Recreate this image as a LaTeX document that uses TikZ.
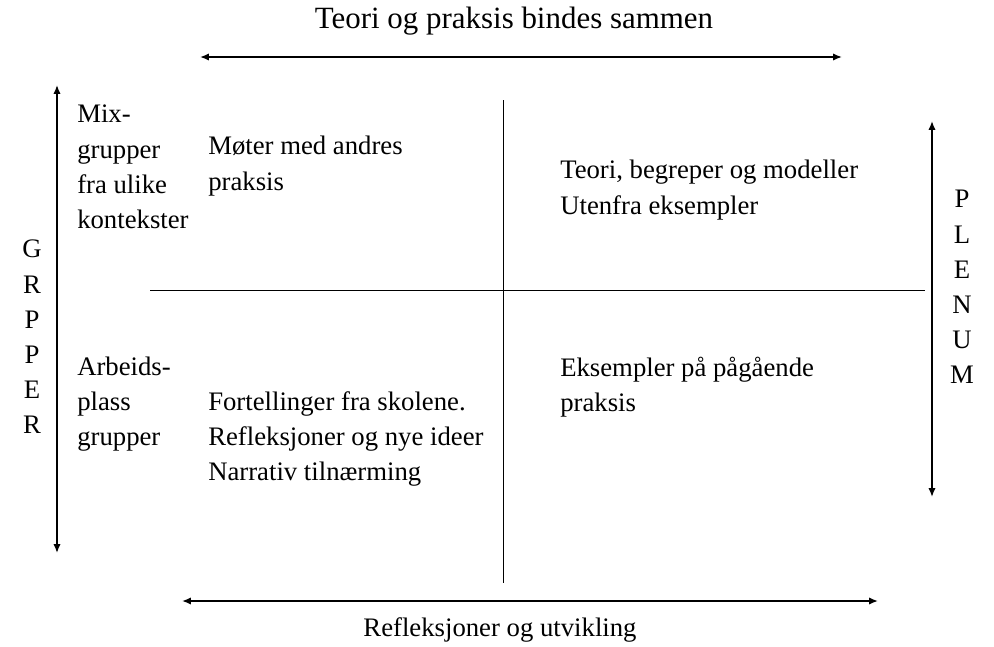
\documentclass[tikz,border=0pt]{standalone}
\usepackage{fontspec}
\setmainfont{Liberation Serif}
\usetikzlibrary{arrows.meta, positioning}

\begin{document}
\begin{tikzpicture}[
        x = 0.025cm, y = -0.025cm,
        every node/.style = {inner sep=0pt, align=left, font=\fontsize{19}{25}\selectfont},
        line/.style = {draw, line width=0.7pt},
        axis/.style = {draw, line width=1.1pt, {Latex[length=2.2mm,width=1.8mm]}-{Latex[length=2.2mm,width=1.8mm]}}
    ]
    \useasboundingbox (0,0) rectangle (994,646);

    % Axis end points
    \coordinate (topL) at (200,57);
    \coordinate (topR) at (842,57);
    \coordinate (botL) at (182,601);
    \coordinate (botR) at (878,601);
    \coordinate (leftT) at (57,85);
    \coordinate (leftB) at (57,553);
    \coordinate (rightT) at (932,121);
    \coordinate (rightB) at (932,497);

    % Quadrant lines
    \coordinate (midL) at (150,290);
    \coordinate (midR) at (925,290);
    \coordinate (midT) at (503,100);
    \coordinate (midB) at (503,583);

    % Axis labels
    \node (theory) at (514,21) [align=center, font=\fontsize{22}{25}\selectfont] {Teori og praksis bindes sammen};
    \node (reflect) at (500,630) [align=center] {Refleksjoner og utvikling};
    \node (groups) at (32,337) [align=center] {G\\R\\P\\P\\E\\R};
    \node (plenum) at (962,287) [align=center] {P\\L\\E\\N\\U\\M};

    % Group types
    \node (mix) at (77,167) [anchor=west] {Mix-\\grupper\\fra ulike\\kontekster};
    \node (work) at (77,404) [anchor=west] {Arbeids-\\plass\\grupper};

    % Quadrant texts
    \node (meet) at (208,166) [anchor=west] {Møter med andres\\praksis};
    \node (models) at (560,190) [anchor=west] {Teori, begreper og modeller\\Utenfra eksempler};
    \node (stories) at (208,439) [anchor=west] {Fortellinger fra skolene.\\Refleksjoner og nye ideer\\Narrativ tilnærming};
    \node (examples) at (560,387) [anchor=west] {Eksempler på pågående\\praksis};

    % Lines
    \path [axis] (topL) -- (topR);
    \path [axis] (botL) -- (botR);
    \path [axis] (leftT) -- (leftB);
    \path [axis] (rightT) -- (rightB);
    \path [line] (midL) -- (midR);
    \path [line] (midT) -- (midB);

\end{tikzpicture}
\end{document}
